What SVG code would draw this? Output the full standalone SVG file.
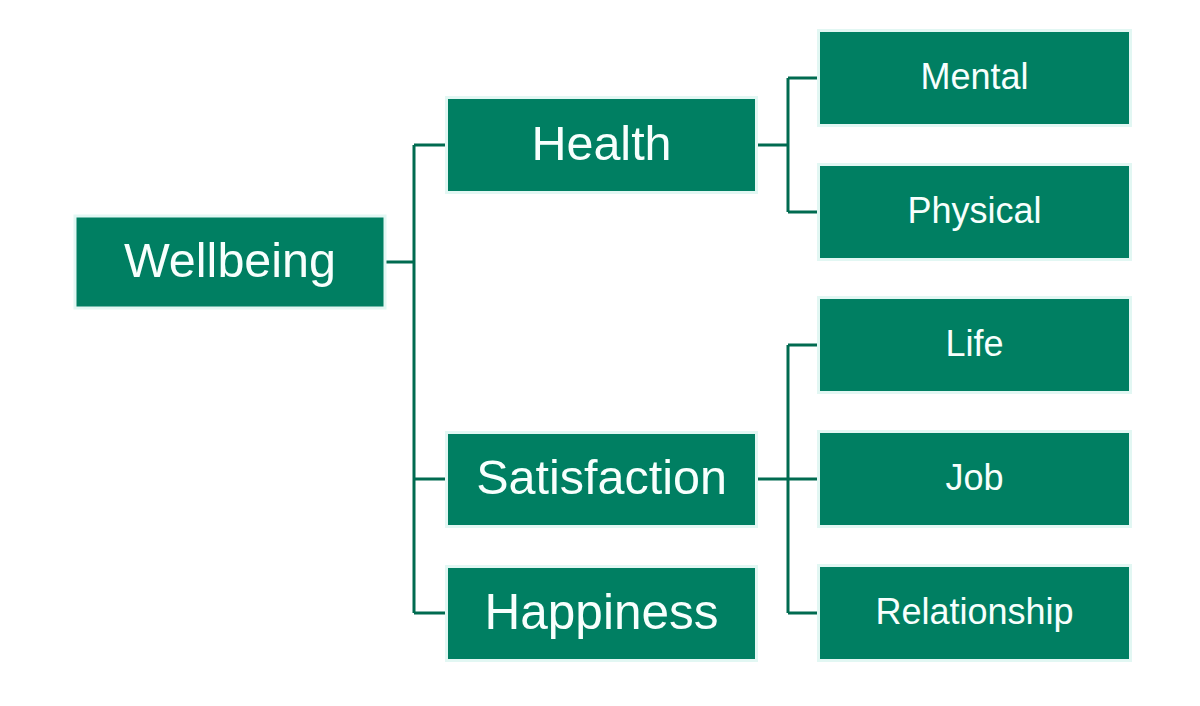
<svg xmlns="http://www.w3.org/2000/svg" width="1200" height="706" viewBox="0 0 1200 706">
<style>
.box{fill:#007f62;stroke:#e2f7f3;stroke-width:3}
.t{fill:#f7fffd;font-family:"Liberation Sans",Arial,sans-serif;text-anchor:middle;dominant-baseline:central}
.l1{font-size:48.5px}
.l3{font-size:36px}
.c{fill:none;stroke:#006b50;stroke-width:3}
</style>
<rect width="1200" height="706" fill="#ffffff"/>
<g id="connectors">
<path class="c" d="M386 262H414M414 145V613M414 145H445M414 479H445M414 613H445"/>
<path class="c" d="M758 145H788M788 78V212M788 78H818M788 212H818"/>
<path class="c" d="M758 479H818M788 345V613M788 345H818M788 613H818"/>
</g>
<g id="wellbeing"><rect class="box" x="75" y="216" width="310" height="92"/><text class="t l1" x="230" y="260">Wellbeing</text></g>
<g id="health"><rect class="box" x="446.5" y="97.5" width="310" height="95"/><text class="t l1" x="601.5" y="143">Health</text></g>
<g id="satisfaction"><rect class="box" x="446.5" y="432.5" width="310" height="94"/><text class="t l1" x="601.5" y="477">Satisfaction</text></g>
<g id="happiness"><rect class="box" x="446.5" y="566.5" width="310" height="94"/><text class="t l1" x="601.5" y="611" style="font-size:49.5px">Happiness</text></g>
<g id="mental"><rect class="box" x="818.5" y="30.5" width="312" height="95"/><text class="t l3" x="974.5" y="76">Mental</text></g>
<g id="physical"><rect class="box" x="818.5" y="164.5" width="312" height="95"/><text class="t l3" x="974.5" y="210">Physical</text></g>
<g id="life"><rect class="box" x="818.5" y="297.5" width="312" height="95"/><text class="t l3" x="974.5" y="343">Life</text></g>
<g id="job"><rect class="box" x="818.5" y="431.5" width="312" height="95"/><text class="t l3" x="974.5" y="477">Job</text></g>
<g id="relationship"><rect class="box" x="818.5" y="565.5" width="312" height="95"/><text class="t l3" x="974.5" y="611">Relationship</text></g>
</svg>
